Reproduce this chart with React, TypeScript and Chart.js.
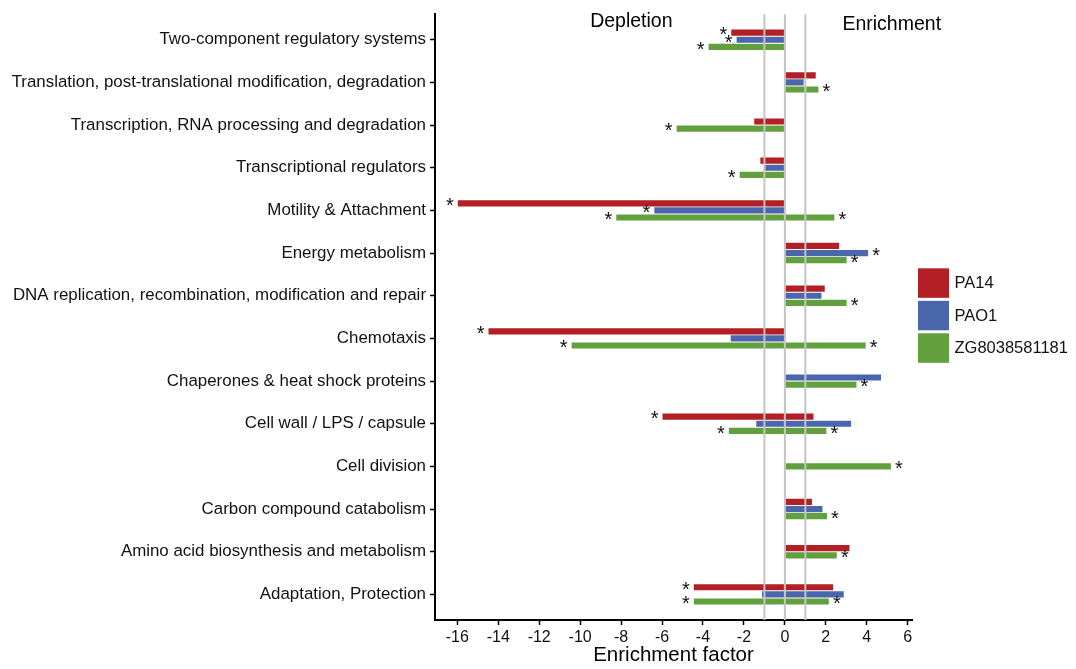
import React, { useEffect, useRef } from 'react';
import { Chart, registerables } from 'chart.js';

Chart.register(...registerables);

const categories = [
  'Two-component regulatory systems',
  'Translation, post-translational modification, degradation',
  'Transcription, RNA processing and degradation',
  'Transcriptional regulators',
  'Motility & Attachment',
  'Energy metabolism',
  'DNA replication, recombination, modification and repair',
  'Chemotaxis',
  'Chaperones & heat shock proteins',
  'Cell wall / LPS / capsule',
  'Cell division',
  'Carbon compound catabolism',
  'Amino acid biosynthesis and metabolism',
  'Adaptation, Protection',
];

const seriesNames = ['PA14', 'PAO1', 'ZG8038581181'];
const seriesColors = ['#B21F24', '#4A67AD', '#62A03D'];

// Depletion (negative) and enrichment (positive) factors; null = no bar
const pa14Depletion = [-2.64, null, -1.52, -1.22, -16.0, null, null, -14.5, null, -6.0, null, null, null, -4.47];
const pa14Enrichment = [null, 1.53, null, null, null, 2.67, 1.97, null, null, 1.42, null, 1.35, 3.18, 2.38];
const pao1Depletion = [-2.38, null, null, -0.98, -6.4, null, null, -2.67, null, -1.42, null, null, null, -1.14];
const pao1Enrichment = [null, 0.94, null, null, null, 4.09, 1.81, null, 4.72, 3.26, null, 1.86, null, 2.9];
const zgDepletion = [-3.75, null, -5.31, -2.23, -8.26, null, null, -10.44, null, -2.76, null, null, null, -4.47];
const zgEnrichment = [null, 1.66, null, null, 2.44, 3.04, 3.04, 3.97, 3.52, 2.05, 5.2, 2.08, 2.56, 2.17];

// Significance stars (1 = marked with *)
const pa14DepletionStar = [1, 0, 0, 0, 1, 0, 0, 1, 0, 1, 0, 0, 0, 1];
const pa14EnrichmentStar = [0, 0, 0, 0, 0, 0, 0, 0, 0, 0, 0, 0, 0, 0];
const pao1DepletionStar = [1, 0, 0, 0, 1, 0, 0, 0, 0, 0, 0, 0, 0, 0];
const pao1EnrichmentStar = [0, 0, 0, 0, 0, 1, 0, 0, 0, 0, 0, 0, 0, 0];
const zgDepletionStar = [1, 0, 1, 1, 1, 0, 0, 1, 0, 1, 0, 0, 0, 1];
const zgEnrichmentStar = [0, 1, 0, 0, 1, 1, 1, 1, 1, 1, 1, 1, 1, 1];

const xTicks = [-16, -14, -12, -10, -8, -6, -4, -2, 0, 2, 4, 6];
const refLines = [-1, 0, 1];
const sideLabels = ['Depletion', 'Enrichment'];
const sideLabelX = [-7.5, 5.22];
const sideLabelY = [-0.42, -0.36];

const FONT = '"Liberation Sans", Arial, Helvetica, sans-serif';

const seriesNeg = [pa14Depletion, pao1Depletion, zgDepletion];
const seriesPos = [pa14Enrichment, pao1Enrichment, zgEnrichment];
const starsNeg = [pa14DepletionStar, pao1DepletionStar, zgDepletionStar];
const starsPos = [pa14EnrichmentStar, pao1EnrichmentStar, zgEnrichmentStar];

// dodge: bars present in a category sit side by side, centred on it;
// each bar takes 1/6 of the category step (group of three = half a step)
const BAR_STEP = 1 / 6;
function dodgeOffsets(): number[][] {
  const offs = seriesNames.map(() => categories.map(() => 0));
  categories.forEach((_, i) => {
    const present = seriesNames
      .map((_, s) => s)
      .filter((s) => seriesNeg[s][i] != null || seriesPos[s][i] != null);
    const n = present.length;
    present.forEach((s, k) => {
      offs[s][i] = (k - (n - 1) / 2) * BAR_STEP;
    });
  });
  return offs;
}

function buildDatasets() {
  const offs = dodgeOffsets();
  const datasets: any[] = [];
  seriesNames.forEach((name, s) => {
    const parts: [Array<number | null>, number[], number][] = [
      [seriesNeg[s], starsNeg[s], -1],
      [seriesPos[s], starsPos[s], 1],
    ];
    parts.forEach(([vals, stars, sign]) => {
      const data: any[] = [];
      vals.forEach((v, i) => {
        if (v != null) data.push({ x: v, y: i + offs[s][i], star: !!stars[i] });
      });
      datasets.push({
        label: name,
        sign,
        data,
        backgroundColor: seriesColors[s],
        borderColor: 'rgba(255,255,255,0.6)',
        borderWidth: 0.8,
        grouped: false,
        categoryPercentage: 1,
        barPercentage: 1,
      });
    });
  });
  return datasets;
}

const overlayPlugin = {
  id: 'overlay',
  afterDatasetsDraw(chart: any) {
    const { ctx, chartArea, scales } = chart;
    const xs = scales.x;
    const ys = scales.y;
    ctx.save();
    // reference lines
    ctx.strokeStyle = '#c4c4c4';
    ctx.lineWidth = 2;
    refLines.forEach((v) => {
      const px = xs.getPixelForValue(v);
      ctx.beginPath();
      ctx.moveTo(px, chartArea.top);
      ctx.lineTo(px, chartArea.bottom);
      ctx.stroke();
    });
    // stars
    const starSize = 20;
    ctx.fillStyle = '#111';
    ctx.font = `${starSize}px ${FONT}`;
    ctx.textAlign = 'center';
    ctx.textBaseline = 'alphabetic';
    chart.data.datasets.forEach((ds: any, d: number) => {
      const meta = chart.getDatasetMeta(d);
      ds.data.forEach((pt: any, j: number) => {
        if (!pt.star) return;
        const el = meta.data[j];
        if (!el) return;
        ctx.fillText('*', el.x + ds.sign * 7.5, el.y + starSize * 0.44);
      });
    });
    // side labels
    ctx.font = `19.5px ${FONT}`;
    ctx.fillStyle = '#000';
    ctx.textBaseline = 'middle';
    sideLabels.forEach((t, k) => {
      ctx.fillText(t, xs.getPixelForValue(sideLabelX[k]), ys.getPixelForValue(sideLabelY[k]));
    });
    // legend
    const box = 31;
    const step = 32.5;
    const lx = chartArea.right + 6;
    const ly = (chartArea.top + chartArea.bottom) / 2 - (step * seriesNames.length) / 2;
    ctx.textAlign = 'left';
    ctx.font = `16.5px ${FONT}`;
    seriesNames.forEach((n, k) => {
      const top = ly + k * step;
      ctx.fillStyle = seriesColors[k];
      ctx.fillRect(lx, top, box, box - 1.5);
      ctx.fillStyle = '#111';
      ctx.fillText(n, lx + box + 5.5, top + box / 2);
    });
    ctx.restore();
  },
};

export default function App() {
  const ref = useRef<HTMLCanvasElement>(null);
  useEffect(() => {
    if (!ref.current) return;
    Chart.defaults.font.family = FONT;
    Chart.defaults.color = '#111';
    const gridOpts = {
      drawOnChartArea: false,
      drawTicks: true,
      offset: false,
      tickLength: 5,
      tickWidth: 1.5,
      tickColor: '#000',
    };
    const borderOpts = { display: true, color: '#000', width: 2 };
    const chart = new Chart(ref.current, {
      type: 'bar',
      data: { datasets: buildDatasets() },
      plugins: [overlayPlugin],
      options: {
        indexAxis: 'y',
        responsive: false,
        animation: false,
        layout: { padding: { left: 0, right: 164, top: 13, bottom: 0 } },
        plugins: { legend: { display: false }, tooltip: { enabled: false } },
        scales: {
          x: {
            type: 'linear',
            offset: false,
            min: -17.09,
            max: 6.21,
            afterBuildTicks: (axis: any) => {
              axis.ticks = xTicks.map((v) => ({ value: v }));
            },
            afterFit: (axis: any) => {
              axis.height = 49;
            },
            ticks: {
              font: { size: 16 },
              color: '#111',
              padding: 3,
              autoSkip: false,
              maxRotation: 0,
              callback: (v: any) => String(v),
            },
            title: {
              display: true,
              text: 'Enrichment factor',
              font: { size: 20.5 },
              color: '#000',
              padding: { top: 0, bottom: 1 },
            },
            grid: gridOpts,
            border: borderOpts,
          },
          y: {
            type: 'linear',
            offset: false,
            reverse: true,
            min: -0.6,
            max: categories.length - 0.4,
            afterBuildTicks: (axis: any) => {
              axis.ticks = categories.map((_, i) => ({ value: i }));
            },
            afterFit: (axis: any) => {
              axis.width = 435;
            },
            ticks: {
              font: { size: 16.9 },
              color: '#111',
              padding: 4,
              autoSkip: false,
              callback: (v: any) => categories[v] ?? '',
            },
            grid: gridOpts,
            border: borderOpts,
          },
        },
      } as any,
    });
    return () => chart.destroy();
  }, []);
  return (
    <div style={{ position: 'fixed', left: 0, top: 0, width: 1076, height: 669, background: '#fff' }}>
      <canvas ref={ref} width={1076} height={669} />
    </div>
  );
}
